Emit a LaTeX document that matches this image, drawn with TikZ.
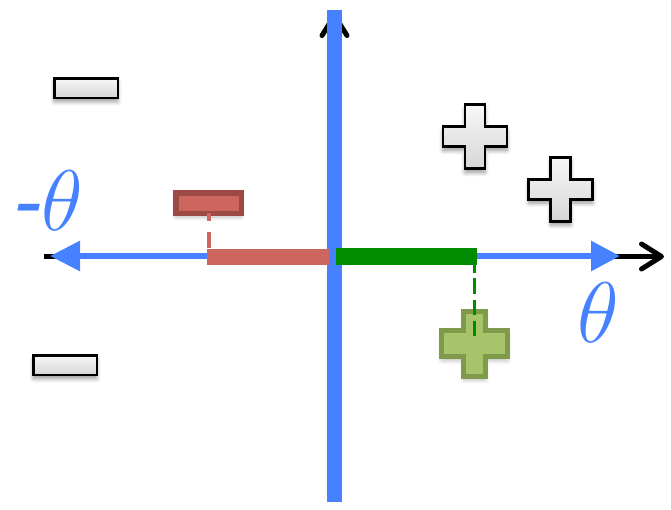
\documentclass[tikz,border=0pt]{standalone}
\usepackage{graphicx}
\usepackage{fontspec}
\newfontfamily\hyfont{Liberation Sans}
\usetikzlibrary{arrows.meta,shadows.blur,calc}
\definecolor{axblue}{RGB}{70,130,255}
\definecolor{barred}{RGB}{205,102,95}
\definecolor{boxred}{RGB}{158,74,68}
\definecolor{bargreen}{RGB}{0,139,0}
\definecolor{plusfill}{RGB}{168,196,106}
\definecolor{plusedge}{RGB}{127,154,74}
\newcommand\drawplus[6]{%
  \path[#1,shift={#2}] (-#5,-#4) -- (#5,-#4) -- (#5,-#6) -- (#3,-#6) -- (#3,#6) -- (#5,#6)
    -- (#5,#4) -- (-#5,#4) -- (-#5,#6) -- (-#3,#6) -- (-#3,-#6) -- (-#5,-#6) -- cycle;}
\newcommand\bigtheta[1]{\scalebox{3.456}{\fontsize{24.88}{30}\selectfont #1}}
\tikzset{
  softshadow/.style={blur shadow={shadow xshift=0pt, shadow yshift=-4pt, shadow blur steps=6, shadow blur radius=4pt, shadow opacity=#1}},
  grayshape/.style={draw=black, line width=2.5pt, line join=miter, top color=gray!6, bottom color=gray!32, softshadow=40},
  greenplus/.style={draw=plusedge, line width=5pt, line join=miter, fill=plusfill, softshadow=25},
  minusbox/.style={grayshape, rectangle, minimum width=63.5pt, minimum height=19.5pt, inner sep=0pt},
  redbox/.style={draw=boxred, fill=barred, line width=5.5pt, rectangle, minimum width=65.5pt, minimum height=20.5pt, inner sep=0pt, softshadow=25},
  bar/.style={rectangle, inner sep=0pt, outer sep=0pt},
  blackaxis/.style={black, line width=5pt, -{Straight Barb[length=20pt,width=25pt,line cap=round,line join=round]}},
  blueaxis/.style={axblue, line width=6pt, {Triangle[length=30pt,width=29pt]}-{Triangle[length=29pt,width=29pt]}},
  bluebar/.style={axblue, line width=15pt},
  thetalabel/.style={axblue, inner sep=0pt, anchor=base west},
  reddash/.style={barred, line width=4pt, dash pattern=on 8pt off 11pt on 16pt off 20pt},
  greendash/.style={bargreen, line width=3.5pt, dash pattern=on 8pt off 5pt on 16pt off 6pt on 15pt off 6pt on 15pt off 12pt on 1pt off 20pt}
}
\begin{document}
\begin{tikzpicture}[x=1pt,y=-1pt]
\useasboundingbox (0,0) rectangle (671,509);
% coordinates
\coordinate (xl) at (44,256.5);
\coordinate (xr) at (664,256.5);
\coordinate (yb) at (334.5,502);
\coordinate (yt) at (334.5,13);
\coordinate (bl) at (50,256);
\coordinate (br) at (620,256);
\coordinate (vt) at (334.5,10);
\coordinate (vb) at (334.5,502);
\coordinate (gplus) at (474.7,343.5);
% black axes
\draw[blackaxis] (xl) -- (xr);
\draw[blackaxis] (yb) -- (yt);
% blue axes
\draw[blueaxis] (bl) -- (br);
\draw[bluebar] (vb) -- (vt);
% projection bars
\node[bar, fill=barred, minimum width=122pt, minimum height=16pt] (rbar) at (268,257) {};
\node[bar, fill=bargreen, minimum width=141pt, minimum height=16.5pt] (gbar) at (406.5,256.25) {};
% gray minus boxes
\node[minusbox] (m1) at (86,88) {};
\node[minusbox] (m2) at (65,365) {};
% gray pluses
\drawplus{grayshape}{(475,136.7)}{32}{32}{10}{10}
\drawplus{grayshape}{(560.7,189.3)}{32}{32}{10}{10}
% highlighted points
\node[redbox] (rb) at (208.5,203) {};
\drawplus{greenplus}{(474.7,343.5)}{32.9}{32.5}{10.8}{13.3}
% dashed projections
\draw[reddash] ([yshift=3.25pt]rb.south) -- (rb.south |- rbar.north);
\draw[greendash] (gbar.south -| gplus) -- ([yshift=2pt]gplus);
% labels
\node[thetalabel] (nt) at (13,230.5) {\bigtheta{{\hyfont\itshape -}$\theta$}};
\node[thetalabel] (pt) at (577,342) {\bigtheta{$\theta$}};
\end{tikzpicture}
\end{document}
